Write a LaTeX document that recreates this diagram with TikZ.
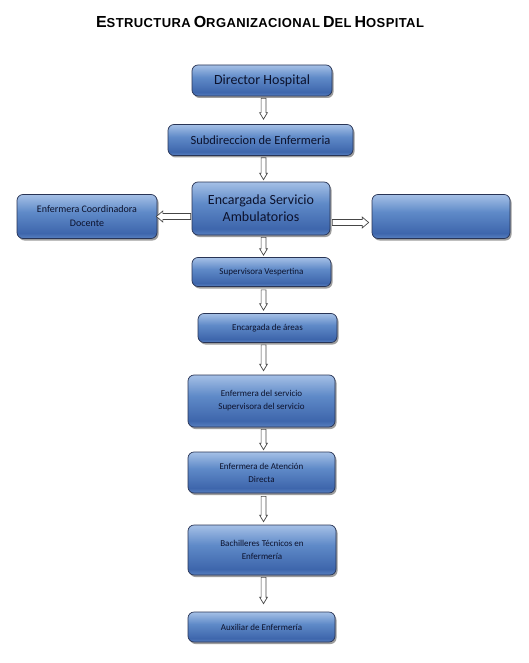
\documentclass[tikz,border=0pt]{standalone}
\usepackage{fontspec}
\setmainfont{Carlito}
\newfontfamily\titlefont[LetterSpace=3]{Liberation Sans}
\usetikzlibrary{calc,shadows}
\definecolor{boxtop}{RGB}{165,192,230}
\definecolor{boxmid}{RGB}{95,138,200}
\definecolor{boxlow}{RGB}{62,102,172}
\definecolor{boxbot}{RGB}{88,128,192}
\definecolor{boxline}{RGB}{40,52,85}
\definecolor{boxtext}{RGB}{12,18,45}
\definecolor{arrline}{RGB}{70,70,70}
\pgfdeclareverticalshading{boxshade}{100bp}{color(0bp)=(boxbot); color(25bp)=(boxbot); color(31bp)=(boxlow); color(55bp)=(boxmid); color(75bp)=(boxtop); color(100bp)=(boxtop)}
\newcommand{\bigsmall}[2]{{\fontsize{16}{16}\selectfont #1}{\fontsize{13}{13}\selectfont #2}}
\tikzset{
  orgbox/.style={draw=boxline, line width=0.7pt, rounded corners=6pt, shading=boxshade,
    drop shadow={shadow xshift=1.5pt, shadow yshift=-2pt, opacity=0.55, fill=black!70},
    text=boxtext, align=center, inner sep=2pt},
  headextra/.store in=\headextra, headextra=1.5pt,
  barrow/.style={draw=arrline, fill=white, line width=0.7pt, line join=miter,
    to path={
      ($(\tikztostart)!#1!90:(\tikztotarget)$) --
      ($($(\tikztotarget)!6.5pt!(\tikztostart)$)!#1!-90:(\tikztostart)$) --
      ($($(\tikztotarget)!6.5pt!(\tikztostart)$)!#1+\headextra!-90:(\tikztostart)$) --
      (\tikztotarget) --
      ($($(\tikztotarget)!6.5pt!(\tikztostart)$)!#1+\headextra!90:(\tikztostart)$) --
      ($($(\tikztotarget)!6.5pt!(\tikztostart)$)!#1!90:(\tikztostart)$) --
      ($(\tikztostart)!#1!-90:(\tikztotarget)$) -- cycle}},
  barrow/.default=2.4pt
}
\begin{document}
\begin{tikzpicture}[x=1pt,y=-1pt]
\useasboundingbox (0,0) rectangle (529,663);
\node[font=\titlefont\bfseries, text=black] (title) at (260,22)
  {\bigsmall{E}{STRUCTURA} \bigsmall{O}{RGANIZACIONAL} \bigsmall{D}{EL} \bigsmall{H}{OSPITAL}};
\coordinate (ax) at (263.5,0);
\node[orgbox, minimum width=140pt, minimum height=31pt, font=\fontsize{14}{16}\selectfont] (dir) at (262,80.5) {Director Hospital};
\node[orgbox, minimum width=185pt, minimum height=31pt, font=\fontsize{12.5}{15}\selectfont] (sub) at (260.5,140) {Subdireccion de Enfermeria};
\node[orgbox, minimum width=138pt, minimum height=53pt, font=\fontsize{14}{17}\selectfont] (enc) at (261,208.5) {Encargada Servicio\\Ambulatorios};
\node[orgbox, minimum width=140pt, minimum height=44pt, font=\fontsize{10}{14}\selectfont] (coord) at (87,216.5) {Enfermera Coordinadora\\Docente};
\node[orgbox, minimum width=138pt, minimum height=44pt] (right) at (441,216.5) {};
\node[orgbox, minimum width=139pt, minimum height=29pt, font=\fontsize{9}{11}\selectfont] (sup) at (261.5,272) {Supervisora Vespertina};
\node[orgbox, minimum width=139pt, minimum height=29pt, font=\fontsize{9}{11}\selectfont] (areas) at (267.5,328) {Encargada de áreas};
\node[orgbox, minimum width=147pt, minimum height=52pt, font=\fontsize{9}{13}\selectfont] (serv) at (261.5,401) {Enfermera del servicio\\Supervisora del servicio};
\node[orgbox, minimum width=147pt, minimum height=41pt, font=\fontsize{9}{13}\selectfont] (aten) at (261.5,472.5) {Enfermera de Atención\\Directa};
\node[orgbox, minimum width=148pt, minimum height=50pt, font=\fontsize{9}{13}\selectfont] (bach) at (262,550) {Bachilleres Técnicos en\\Enfermería};
\node[orgbox, minimum width=147pt, minimum height=30pt, font=\fontsize{9}{11}\selectfont] (aux) at (261.5,627) {Auxiliar de Enfermería};
\draw[barrow] ($(dir.south -| ax)+(0,2)$) to ($(sub.north -| ax)+(0,-5)$);
\draw[barrow] ($(sub.south -| ax)+(0,2)$) to ($(enc.north -| ax)+(0,-2)$);
\draw[barrow] ($(enc.south -| ax)+(0,2)$) to ($(sup.north -| ax)+(0,-2)$);
\draw[barrow] ($(sup.south -| ax)+(0,3)$) to ($(areas.north -| ax)+(0,-3)$);
\draw[barrow] ($(areas.south -| ax)+(0,2)$) to ($(serv.north -| ax)+(0,-4)$);
\draw[barrow] ($(serv.south -| ax)+(0,2)$) to ($(aten.north -| ax)+(0,-2)$);
\draw[barrow] ($(aten.south -| ax)+(0,3)$) to ($(bach.north -| ax)+(0,-3)$);
\draw[barrow] ($(bach.south -| ax)+(0,2)$) to ($(aux.north -| ax)+(0,-8)$);
\draw[barrow=3pt, headextra=2.5pt] ($(enc.west)+(-1,8)$) to ($(coord.east)+(-1,0)$);
\draw[barrow=3pt, headextra=2.5pt] ($(enc.east)+(2,14)$) to ($(right.west)+(-3,6)$);
\end{tikzpicture}
\end{document}
